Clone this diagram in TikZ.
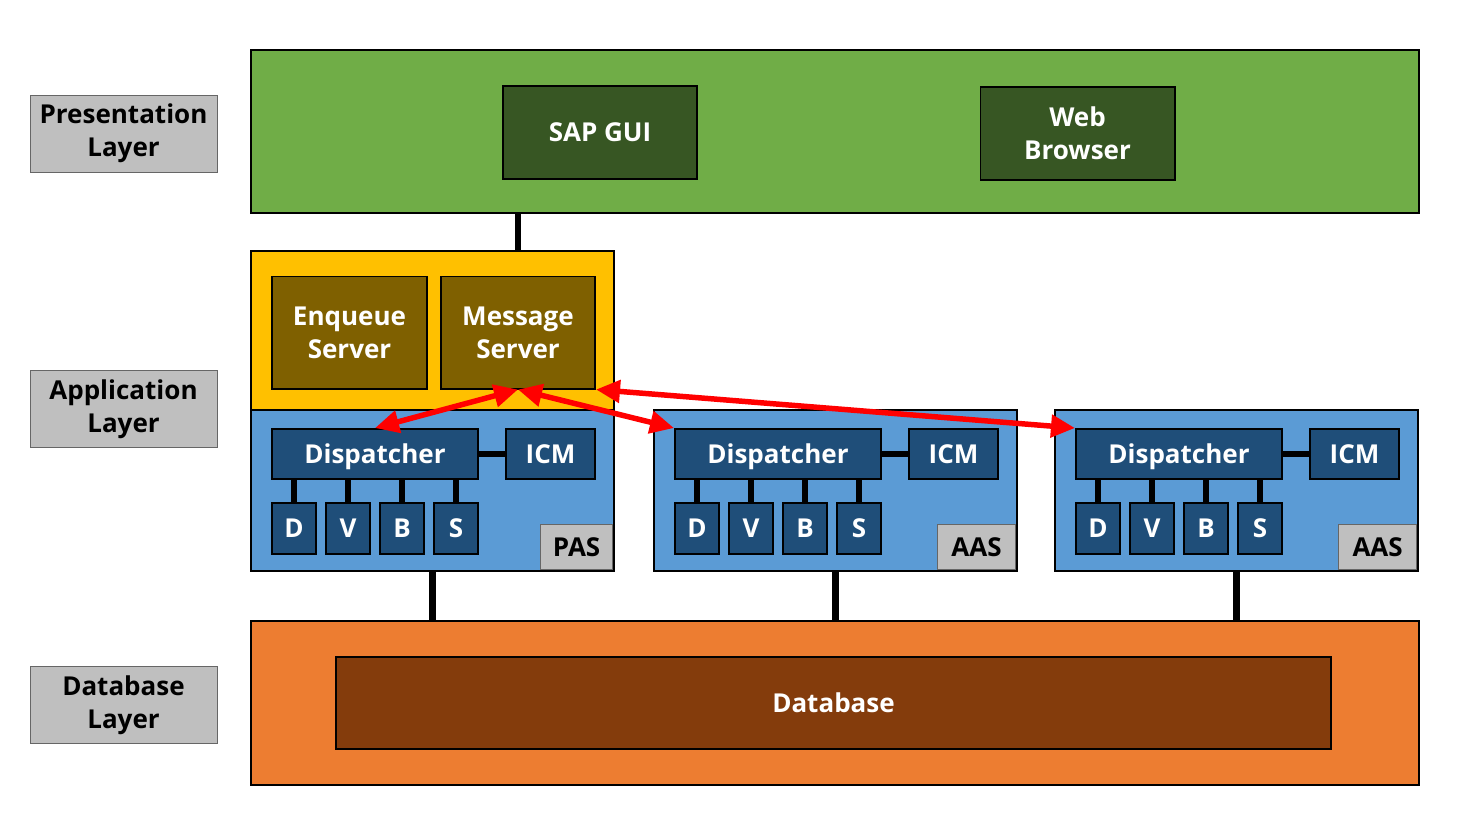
\documentclass[tikz,border=0pt]{standalone}
\usepackage{fontspec}
\setmainfont{Open Sans}
\usetikzlibrary{arrows.meta}

\definecolor{presgreen}{HTML}{70AD47}
\definecolor{guigreen}{HTML}{375623}
\definecolor{appyellow}{HTML}{FFC000}
\definecolor{srvolive}{HTML}{7F6000}
\definecolor{appblue}{HTML}{5B9BD5}
\definecolor{wpblue}{HTML}{1F4E79}
\definecolor{labelgray}{HTML}{BFBFBF}
\definecolor{dborange}{HTML}{ED7D31}
\definecolor{dbbrown}{HTML}{843C0C}

\begin{document}
\begin{tikzpicture}[x=0.025cm,y=-0.025cm]
        \tikzset{>=Triangle}
        \tikzstyle{every node}=[draw=black,line width=1.4pt,inner sep=0pt,align=center,font=\bfseries\fontsize{18.5}{23.5}\selectfont]
        \tikzstyle{oneline}=[text height=16pt,text depth=2.8pt]
        \tikzstyle{layerbox}=[fill=labelgray,draw=black!60,line width=0.6pt,text=black,minimum width=4.675cm,minimum height=1.925cm]
        \tikzstyle{clientbox}=[fill=guigreen,text=white,minimum width=4.85cm,minimum height=2.325cm]
        \tikzstyle{srvbox}=[fill=srvolive,text=white,minimum height=2.8cm]
        \tikzstyle{appbox}=[fill=appblue,minimum width=9.075cm,minimum height=4.025cm]
        \tikzstyle{wpbox}=[oneline,fill=wpblue,text=white,minimum height=1.25cm]
        \tikzstyle{procbox}=[oneline,fill=wpblue,text=white,minimum width=1.1cm,minimum height=1.275cm]
        \tikzstyle{tagbox}=[oneline,fill=labelgray,draw=black!60,line width=0.6pt,text=black,minimum height=1.125cm,anchor=south east]
        \tikzstyle{bar}=[line width=4.6pt,black]
        \tikzstyle{msgarrow}=[{Triangle[length=0.6cm,width=0.55cm]}-{Triangle[length=0.6cm,width=0.55cm]},line width=3.9pt,red]

        \useasboundingbox (0,0) rectangle (1467,825);

        % layer labels
        \node[layerbox] (lpres) at (123.5,133.5) {Presentation\\Layer};
        \node[layerbox] (lapp) at (123.5,409) {Application\\Layer};
        \node[layerbox] (ldb) at (123.5,705) {Database\\Layer};

        % presentation layer
        \node[fill=presgreen,minimum width=29.2cm,minimum height=4.075cm] (pres) at (835,131.5) {};
        \node[clientbox,oneline] (gui) at (600,132.5) {SAP GUI};
        \node[clientbox] (web) at (1077.5,133.5) {Web\\Browser};

        % central services
        \node[fill=appyellow,minimum width=9.075cm,minimum height=3.975cm] (cs) at (432.5,330.5) {};
        \node[srvbox,minimum width=3.875cm] (enq) at (349.5,332.5) {Enqueue\\Server};
        \node[srvbox,minimum width=3.85cm] (msg) at (518,332.5) {Message\\Server};

        % database layer
        \node[fill=dborange,minimum width=29.2cm,minimum height=4.1cm] (dbl) at (835,703) {};
        \node[fill=dbbrown,text=white,oneline,minimum width=24.875cm,minimum height=2.3cm] (db) at (833.5,703) {Database};

        % application servers
        \foreach \s/\dx/\lab/\w in {1/0/PAS/1.8cm,2/403/AAS/1.95cm,3/804/AAS/1.95cm} {
            \node[appbox] (app\s) at ({432.5+\dx},490.5) {};
            \node[wpbox,minimum width=5.15cm] (disp\s) at ({375+\dx},454) {Dispatcher};
            \node[wpbox,minimum width=2.225cm] (icm\s) at ({550.5+\dx},454) {ICM};
            \draw[bar] (disp\s.east) -- (icm\s.west);
            \foreach \l [count=\k] in {D,V,B,S} {
                \node[procbox] (p\s\k) at ({294+\dx+54*(\k-1)},528.5) {\l};
                \draw[bar] (p\s\k.north) -- (p\s\k.north |- disp\s.south);
            }
            \node[tagbox,minimum width=\w] (tag\s) at ([shift={(-2,-2)}]app\s.south east) {\lab};
            \draw[bar] (app\s.south) -- (app\s.south |- dbl.north);
        }

        \draw[bar] (msg |- pres.south) -- (msg |- cs.north);

        % message server traffic
        \draw[msgarrow] (disp1.north) -- (msg.south);
        \draw[msgarrow] (msg.south) -- (disp2.north west);
        \draw[msgarrow] (msg.south east) -- (disp3.north west);
\end{tikzpicture}
\end{document}
